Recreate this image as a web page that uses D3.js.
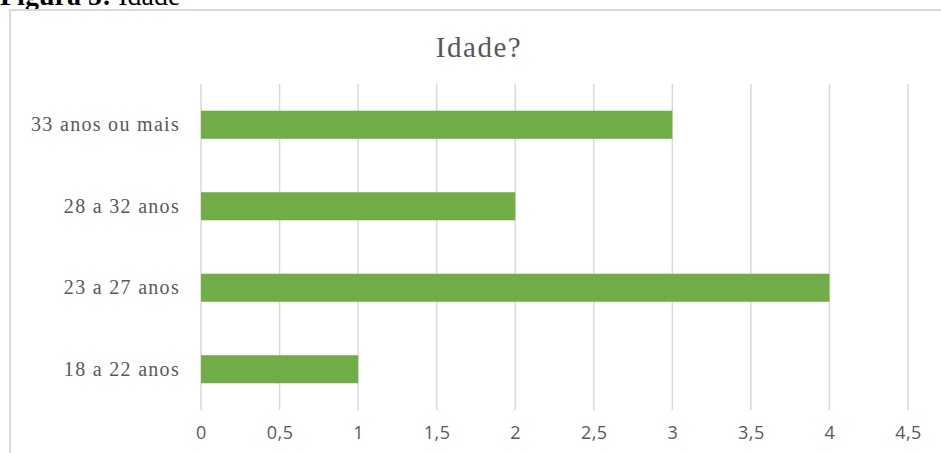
<!DOCTYPE html>
<html>
<head>
<meta charset="utf-8">
<script src="https://cdn.jsdelivr.net/npm/d3@7"></script>
<style>
  body { margin: 0; background: #fff; }
</style>
</head>
<body>
<div id="chart"></div>
<script>
// chart data
var categories = ["33 anos ou mais", "28 a 32 anos", "23 a 27 anos", "18 a 22 anos"];
var values = [3, 2, 4, 1];
var tickValues = [0, 0.5, 1, 1.5, 2, 2.5, 3, 3.5, 4, 4.5];
var chartTitle = "Idade?";

var svgWidth = 941;
var svgHeight = 453;

var svg = d3.select("#chart")
  .append("svg")
  .attr("width", svgWidth)
  .attr("height", svgHeight);

// figure caption, cut off at the top like in the page scan
var caption = svg.append("text")
  .attr("x", 0)
  .attr("y", 5)
  .attr("font-family", "Liberation Serif, Times New Roman, serif")
  .attr("font-size", 28)
  .attr("fill", "#000");
caption.append("tspan").attr("font-weight", "bold").text("Figura 5: ");
caption.append("tspan").text("Idade");

// chart frame
svg.append("rect")
  .attr("x", 10)
  .attr("y", 10)
  .attr("width", 960)
  .attr("height", 480)
  .attr("fill", "none")
  .attr("stroke", "#d9d9d9")
  .attr("stroke-width", 2);

// title
svg.append("text")
  .attr("x", 479)
  .attr("y", 57)
  .attr("text-anchor", "middle")
  .attr("font-family", "Liberation Serif, Times New Roman, serif")
  .attr("font-size", 29)
  .attr("letter-spacing", 1.5)
  .attr("fill", "#595959")
  .text(chartTitle);

var xScale = d3.scaleLinear()
  .domain([0, 4.5])
  .range([201, 908]);

var yScale = d3.scaleBand()
  .domain(categories)
  .range([84, 410])
  .paddingInner(0.656)
  .paddingOuter(0.328);

// vertical gridlines
svg.append("g")
  .selectAll("line")
  .data(tickValues)
  .enter()
  .append("line")
  .attr("x1", d => xScale(d))
  .attr("x2", d => xScale(d))
  .attr("y1", 84)
  .attr("y2", 410)
  .attr("stroke", "#d9d9d9")
  .attr("stroke-width", 1.5);

// bars
svg.append("g")
  .selectAll("rect")
  .data(values)
  .enter()
  .append("rect")
  .attr("x", xScale(0))
  .attr("y", (d, i) => yScale(categories[i]))
  .attr("width", d => xScale(d) - xScale(0))
  .attr("height", yScale.bandwidth())
  .attr("fill", "#70ad47");

// x axis labels
var bottomAxis = d3.axisBottom(xScale)
  .tickValues(tickValues)
  .tickSize(0)
  .tickPadding(0)
  .tickFormat(d => String(d).replace(".", ","));

var xAxis = svg.append("g")
  .attr("transform", "translate(0, 426)")
  .call(bottomAxis);
xAxis.select(".domain").remove();
xAxis.selectAll("text")
  .attr("font-family", "Open Sans, Liberation Sans, sans-serif")
  .attr("font-size", 18)
  .attr("letter-spacing", 0.5)
  .attr("fill", "#595959");

// y axis labels
var leftAxis = d3.axisLeft(yScale)
  .tickSize(0)
  .tickPadding(0);

var yAxis = svg.append("g")
  .attr("transform", "translate(180, 0)")
  .call(leftAxis);
yAxis.select(".domain").remove();
yAxis.selectAll("text")
  .attr("font-family", "Liberation Serif, Times New Roman, serif")
  .attr("font-size", 20)
  .attr("letter-spacing", 1.3)
  .attr("fill", "#595959");
</script>
</body>
</html>
